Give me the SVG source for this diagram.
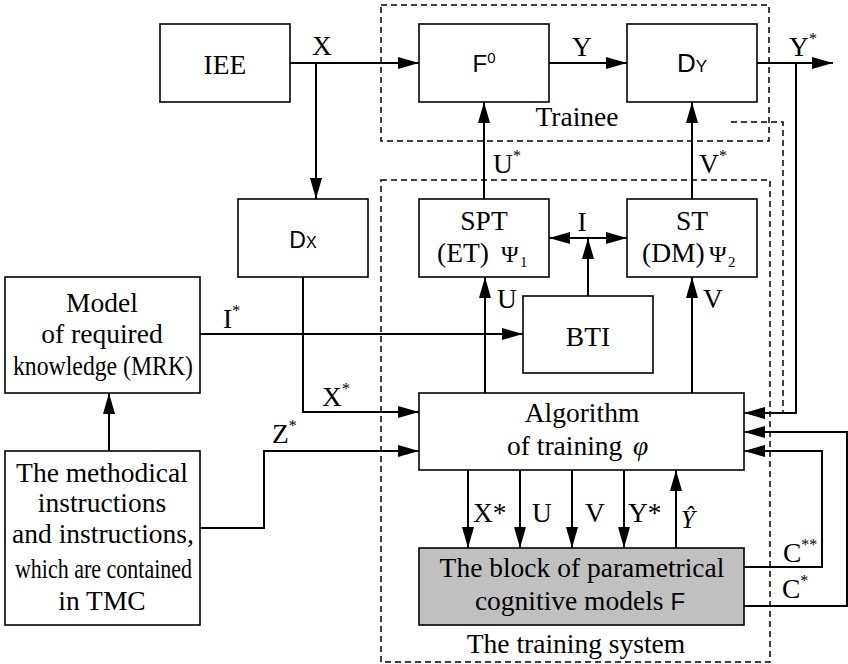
<svg xmlns="http://www.w3.org/2000/svg" width="848" height="664" viewBox="0 0 848 664">
<defs>
<style>
.box{fill:#fff;stroke:#000;stroke-width:1.6}
.gray{fill:#c0c0c0;stroke:#000;stroke-width:1.6}
.t{font-family:"Liberation Serif","Times New Roman",serif;font-size:27.5px;fill:#000}
.s{font-family:"Liberation Sans",Arial,sans-serif;fill:#000}
.c{fill:none;stroke:#000;stroke-width:2}
.d{fill:none;stroke:#000;stroke-width:1.5;stroke-dasharray:6 4}
.m{text-anchor:middle}
.sup{font-size:16px}
</style>
<marker id="a" markerUnits="userSpaceOnUse" markerWidth="21" markerHeight="12" refX="21" refY="6" orient="auto-start-reverse">
<path d="M0,0 L21,6 L0,12 z" fill="#000"/>
</marker>
</defs>
<rect width="848" height="664" fill="#fff"/>

<g id="trainee-frame">
<rect class="d" x="381" y="5" width="388" height="136"/>
<text class="t m" x="577" y="126">Trainee</text>
</g>
<g id="training-system-frame">
<rect class="d" x="381" y="180" width="389" height="482"/>
<text class="t m" x="576" y="653">The training system</text>
</g>

<g id="connectors">
<path class="c" d="M290,63 H419" marker-end="url(#a)"/>
<path class="c" d="M316,63 V199" marker-end="url(#a)"/>
<path class="c" d="M549,63 H627" marker-end="url(#a)"/>
<path class="c" d="M757,63 H833" marker-end="url(#a)"/>
<path class="c" d="M796,63 V413 H744" marker-end="url(#a)"/>
<path class="d" d="M731,122 H783 V413"/>
<path class="c" d="M484,199 V102" marker-end="url(#a)"/>
<path class="c" d="M692,199 V102" marker-end="url(#a)"/>
<path class="c" d="M549,238 H627" marker-start="url(#a)" marker-end="url(#a)"/>
<path class="c" d="M588,296 V238" marker-end="url(#a)"/>
<path class="c" d="M485,393 V277" marker-end="url(#a)"/>
<path class="c" d="M692,393 V277" marker-end="url(#a)"/>
<path class="c" d="M200,334 H523" marker-end="url(#a)"/>
<path class="c" d="M303,277 V412 H419" marker-end="url(#a)"/>
<path class="c" d="M109,451 V393" marker-end="url(#a)"/>
<path class="c" d="M200,528 H264 V451 H419" marker-end="url(#a)"/>
<path class="c" d="M468,470 V548" marker-end="url(#a)"/>
<path class="c" d="M520,470 V548" marker-end="url(#a)"/>
<path class="c" d="M572,470 V548" marker-end="url(#a)"/>
<path class="c" d="M624,470 V548" marker-end="url(#a)"/>
<path class="c" d="M676,548 V470" marker-end="url(#a)"/>
<path class="c" d="M744,567 H822 V451 H744" marker-end="url(#a)"/>
<path class="c" d="M744,606 H847 V432 H744" marker-end="url(#a)"/>

<text class="t m" x="322" y="55">X</text>
<text class="t m" x="582" y="56">Y</text>
<text class="t" x="789" y="56">Y<tspan class="sup" dy="-12">*</tspan></text>
<text class="t" x="493" y="173">U<tspan class="sup" dy="-12">*</tspan></text>
<text class="t" x="699" y="173">V<tspan class="sup" dy="-12">*</tspan></text>
<text class="t m" x="582" y="231">I</text>
<text class="t" x="497" y="308">U</text>
<text class="t" x="703" y="308">V</text>
<text class="t" x="223" y="328">I<tspan class="sup" dy="-12">*</tspan></text>
<text class="t" x="322" y="406">X<tspan class="sup" dy="-12">*</tspan></text>
<text class="t" x="272" y="443">Z<tspan class="sup" dy="-12">*</tspan></text>
<text class="t" x="473" y="522">X*</text>
<text class="t" x="532" y="522">U</text>
<text class="t" x="585" y="522">V</text>
<text class="t" x="628" y="522">Y*</text>
<text class="t" x="681" y="528" style="font-size:25px;font-style:italic">Ŷ</text>
<text class="t" x="783" y="562">C<tspan class="sup" dy="-12">**</tspan></text>
<text class="t" x="782" y="598">C<tspan class="sup" dy="-12">*</tspan></text>
</g>

<g id="IEE">
<rect class="box" x="160" y="24" width="130" height="78"/>
<text class="t m" x="225" y="74">IEE</text>
</g>
<g id="F0">
<rect class="box" x="419" y="24" width="130" height="78"/>
<text class="s m" x="484" y="72" style="font-size:24px">F<tspan style="font-size:15px" dy="-9">0</tspan></text>
</g>
<g id="DY">
<rect class="box" x="627" y="24" width="130" height="78"/>
<text class="s m" x="692" y="72" style="font-size:26px">D<tspan style="font-size:17px">Y</tspan></text>
</g>
<g id="DX">
<rect class="box" x="238" y="199" width="130" height="78"/>
<text class="s m" x="303" y="248" style="font-size:23px">D<tspan style="font-size:16px">X</tspan></text>
</g>
<g id="SPT">
<rect class="box" x="419" y="199" width="130" height="78"/>
<text class="t m" x="484" y="230">SPT</text>
<text class="t" x="437" y="262">(ET)<tspan x="501" style="font-size:24px">Ψ</tspan><tspan x="520" dy="5" style="font-size:15px">1</tspan></text>
</g>
<g id="ST">
<rect class="box" x="627" y="199" width="130" height="78"/>
<text class="t m" x="692" y="230">ST</text>
<text class="t" x="642" y="262">(DM)<tspan x="709" style="font-size:24px">Ψ</tspan><tspan x="728" dy="5" style="font-size:15px">2</tspan></text>
</g>
<g id="BTI">
<rect class="box" x="523" y="296" width="130" height="77"/>
<text class="t m" x="588" y="346">BTI</text>
</g>
<g id="MRK">
<rect class="box" x="5" y="277" width="195" height="116"/>
<text class="t m" x="102" y="312">Model</text>
<text class="t m" x="102" y="343">of required</text>
<text class="t" x="13" y="375" textLength="180" lengthAdjust="spacingAndGlyphs">knowledge (MRK)</text>
</g>
<g id="TMC">
<rect class="box" x="5" y="451" width="195" height="174"/>
<text class="t m" x="102" y="482">The methodical</text>
<text class="t m" x="102" y="512">instructions</text>
<text class="t m" x="103" y="543">and instructions,</text>
<text class="t" x="15" y="578" textLength="177" lengthAdjust="spacingAndGlyphs">which are contained</text>
<text class="t m" x="102" y="610">in TMC</text>
</g>
<g id="Algorithm">
<rect class="box" x="419" y="393" width="325" height="77"/>
<text class="t m" x="582" y="422">Algorithm</text>
<text class="t" x="507" y="455">of training<tspan x="633" style="font-style:italic">φ</tspan></text>
</g>
<g id="Block">
<rect class="gray" x="419" y="548" width="325" height="77"/>
<text class="t m" x="582" y="577">The block of parametrical</text>
<text class="t m" x="580" y="610">cognitive models <tspan class="s" style="font-size:24px">F</tspan></text>
</g>
</svg>
